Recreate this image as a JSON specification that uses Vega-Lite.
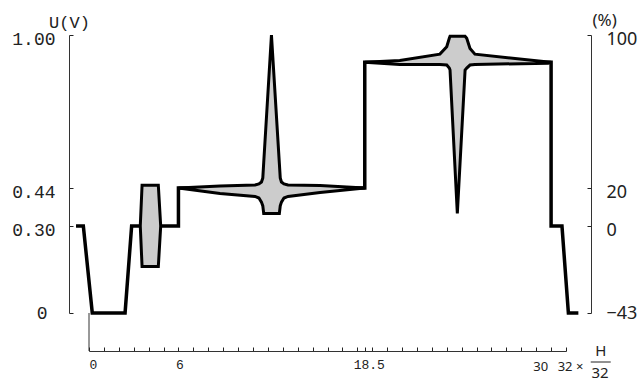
{
  "$schema": "https://vega.github.io/schema/vega-lite/v6.json",
  "width": 477,
  "height": 278,
  "autosize": "none",
  "padding": {"left": 89, "top": 35, "right": 73, "bottom": 72},
  "background": "white",
  "config": {
    "view": {"stroke": null},
    "axis": {"labelFlush": false, "labelOverlap": false, "grid": false, "domainColor": "#333", "tickColor": "#222", "tickWidth": 1, "labelColor": "#222", "titleColor": "#222", "titleFontWeight": "normal"}
  },
  "datasets": {
    "wave": [
      {"i": 1, "x": -0.87, "y": 0.30},
      {"i": 2, "x": -0.38, "y": 0.30},
      {"i": 3, "x": 0.22, "y": 0},
      {"i": 4, "x": 2.42, "y": 0},
      {"i": 5, "x": 2.86, "y": 0.30},
      {"i": 6, "x": 6.0, "y": 0.30},
      {"i": 7, "x": 6.0, "y": 0.44},
      {"i": 8, "x": 18.5, "y": 0.44},
      {"i": 9, "x": 18.5, "y": 0.90},
      {"i": 10, "x": 31.0, "y": 0.90},
      {"i": 11, "x": 31.0, "y": 0.30},
      {"i": 12, "x": 31.73, "y": 0.30},
      {"i": 13, "x": 32.16, "y": 0},
      {"i": 14, "x": 32.83, "y": 0}
    ],
    "shapes": [
      {"s": "a", "x": 3.44, "y": 0.30, "y2": 0.30},
      {"s": "a", "x": 3.56, "y": 0.45, "y2": 0.16},
      {"s": "a", "x": 4.65, "y": 0.45, "y2": 0.16},
      {"s": "a", "x": 4.81, "y": 0.30, "y2": 0.30},
      {"s": "b", "x": 6.0, "y": 0.44, "y2": 0.44},
      {"s": "b", "x": 8.79, "y": 0.447, "y2": 0.420},
      {"s": "b", "x": 11.14, "y": 0.451, "y2": 0.409},
      {"s": "b", "x": 11.40, "y": 0.455, "y2": 0.403},
      {"s": "b", "x": 11.57, "y": 0.462, "y2": 0.388},
      {"s": "b", "x": 11.66, "y": 0.477, "y2": 0.374},
      {"s": "b", "x": 11.72, "y": 0.532, "y2": 0.346},
      {"s": "b", "x": 12.24, "y": 1.0, "y2": 0.346},
      {"s": "b", "x": 12.77, "y": 0.53, "y2": 0.346},
      {"s": "b", "x": 12.83, "y": 0.477, "y2": 0.374},
      {"s": "b", "x": 12.91, "y": 0.462, "y2": 0.388},
      {"s": "b", "x": 13.08, "y": 0.455, "y2": 0.403},
      {"s": "b", "x": 13.35, "y": 0.451, "y2": 0.409},
      {"s": "b", "x": 15.50, "y": 0.449, "y2": 0.423},
      {"s": "b", "x": 18.5, "y": 0.44, "y2": 0.44},
      {"s": "c", "x": 18.5, "y": 0.90, "y2": 0.90},
      {"s": "c", "x": 20.85, "y": 0.907, "y2": 0.892},
      {"s": "c", "x": 23.54, "y": 0.930, "y2": 0.892},
      {"s": "c", "x": 24.0, "y": 0.957, "y2": 0.890},
      {"s": "c", "x": 24.17, "y": 0.988, "y2": 0.879},
      {"s": "c", "x": 24.22, "y": 0.995, "y2": 0.872},
      {"s": "c", "x": 24.71, "y": 0.995, "y2": 0.346},
      {"s": "c", "x": 25.23, "y": 0.995, "y2": 0.872},
      {"s": "c", "x": 25.34, "y": 0.988, "y2": 0.879},
      {"s": "c", "x": 25.56, "y": 0.951, "y2": 0.890},
      {"s": "c", "x": 25.89, "y": 0.930, "y2": 0.892},
      {"s": "c", "x": 30.81, "y": 0.901, "y2": 0.897},
      {"s": "c", "x": 31.0, "y": 0.90, "y2": 0.90}
    ],
    "marker": [{"x": 0, "y": 0, "y2": -0.131}],
    "fracline": [{"x": 33.66, "x2": 35.0, "y": -0.169}],
    "fractext": [
      {"t": "H", "x": 34.33, "y": -0.131},
      {"t": "32", "x": 34.28, "y": -0.207}
    ],
    "pct": [{"pct": -43}, {"pct": 100}]
  },
  "layer": [
    {
      "encoding": {
        "x": {"field": "x", "type": "quantitative", "scale": {"domain": [0, 32], "nice": false, "zero": false},
          "axis": {
            "values": [0,1,2,3,4,5,6,7,8,9,10,11,12,13,14,15,16,17,18,18.5,19,20,21,22,23,24,25,26,27,28,29,30,31,32],
            "labelExpr": "datum.value==0?'0':datum.value==6?'6':datum.value==18.5?'18.5':datum.value==30?'30':datum.value==32?'32 ×':''",
            "offset": 38, "tickSize": -4, "title": null,
            "labelFont": {"condition": {"test": "datum.value>=30", "value": "Noto Sans"}, "value": "Liberation Mono"},
            "labelFontSize": 13,
            "labelPadding": {"condition": {"test": "datum.value>=30", "value": 13}, "value": 11},
            "labelOffset": {"condition": {"test": "datum.value==6", "value": 1}, "value": 4}
          }
        },
        "y": {"field": "y", "type": "quantitative", "scale": {"domain": [0, 0.3, 0.44, 1], "range": [278, 191, 153, 0], "nice": false, "zero": false},
          "axis": {
            "values": [0, 0.3, 0.44, 1], "format": ".2f",
            "labelExpr": "datum.value==0?'0':datum.label",
            "offset": 20, "tickSize": -4,
            "labelFont": "Liberation Mono", "labelFontSize": 18,
            "labelPadding": {"condition": {"test": "datum.value==0", "value": 26}, "value": 18},
            "labelOffset": {"condition": {"test": "datum.value==0", "value": 0}, "value": 4},
            "labelBaseline": "middle",
            "title": "U(V)", "titleAngle": 0, "titleAlign": "center", "titleBaseline": "alphabetic",
            "titleFont": "Liberation Mono", "titleFontSize": 17, "titleX": 0, "titleY": -8
          }
        }
      },
      "layer": [
        {
          "data": {"name": "wave"},
          "mark": {"type": "line", "color": "black", "strokeWidth": 3.5, "strokeJoin": "miter"},
          "encoding": {"order": {"field": "i", "type": "quantitative"}}
        },
        {
          "data": {"name": "shapes"},
          "mark": {"type": "area", "fill": "#cccccc", "stroke": "black", "strokeWidth": 3, "opacity": 1, "strokeJoin": "miter"},
          "encoding": {
            "y2": {"field": "y2"},
            "detail": {"field": "s"}
          }
        },
        {
          "data": {"name": "marker"},
          "mark": {"type": "rule", "color": "#333", "strokeWidth": 1},
          "encoding": {"y2": {"field": "y2"}}
        },
        {
          "data": {"name": "fracline"},
          "mark": {"type": "rule", "color": "#222", "strokeWidth": 1},
          "encoding": {"x2": {"field": "x2"}}
        },
        {
          "data": {"name": "fractext"},
          "mark": {"type": "text", "font": "Noto Sans", "fontSize": 15, "color": "#222", "align": "center", "baseline": "middle"},
          "encoding": {"text": {"field": "t"}}
        }
      ]
    },
    {
      "data": {"name": "pct"},
      "mark": {"type": "point", "opacity": 0},
      "encoding": {
        "y": {"field": "pct", "type": "quantitative", "scale": {"domain": [-43, 0, 20, 100], "range": [278, 191, 153, 0], "nice": false, "zero": false},
          "axis": {
            "orient": "right", "values": [-43, 0, 20, 100],
            "offset": 25, "tickSize": -4,
            "labelFont": "Noto Sans", "labelFontSize": 18, "labelPadding": 19, "labelAlign": "left",
            "labelBaseline": "middle",
            "labelOffset": {"condition": {"test": "datum.value==-43", "value": 0}, "value": 4},
            "title": "(%)", "titleAngle": 0, "titleAlign": "left", "titleBaseline": "alphabetic",
            "titleFont": "Noto Sans", "titleFontSize": 17, "titleX": 1, "titleY": -10
          }
        }
      }
    }
  ],
  "resolve": {"scale": {"y": "independent"}}
}
